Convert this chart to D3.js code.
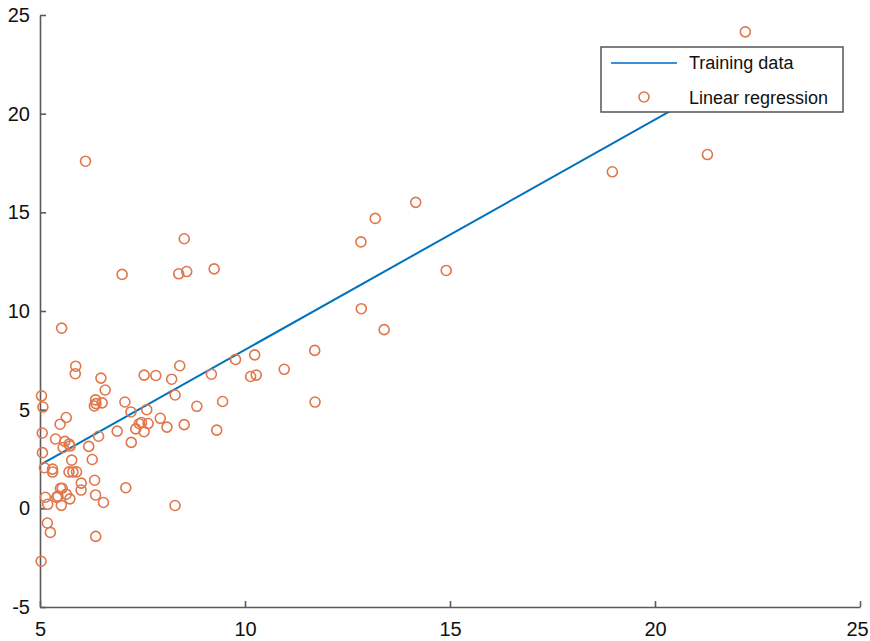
<!DOCTYPE html>
<html><head><meta charset="utf-8">
<script src="https://cdn.jsdelivr.net/npm/d3@7"></script>
<style>body{margin:0;background:#fff}svg{display:block}text{font-family:"Liberation Sans",Arial,sans-serif}</style>
</head><body><svg id="c" width="870" height="641"></svg>
<script>
const population = [6.1101,5.5277,8.5186,7.0032,5.8598,8.3829,7.4764,8.5781,6.4862,5.0546,5.7107,14.164,5.734,8.4084,5.6407,5.3794,6.3654,5.1301,6.4296,7.0708,6.1891,20.27,5.4901,6.3261,5.5649,18.945,12.828,10.957,13.176,22.203,5.2524,6.5894,9.2482,5.8918,8.2111,7.9334,8.0959,5.6063,12.836,6.3534,5.4069,6.8825,11.708,5.7737,7.8247,7.0931,5.0702,5.8014,11.7,5.5416,7.5402,5.3077,7.4239,7.6031,6.3328,6.3589,6.2742,5.6397,9.3102,9.4536,8.8254,5.1793,21.279,14.908,18.959,7.2182,8.2951,10.236,5.4994,20.341,10.136,7.3345,6.0062,7.2259,5.0269,6.5479,7.5386,5.0365,10.274,5.1077,5.7292,5.1884,6.3557,9.7687,6.5159,8.5172,9.1802,6.002,5.5204,5.0594,5.7077,7.6366,5.8707,5.3054,8.2934,13.394,5.4369];
const profit = [17.592,9.1302,13.662,11.854,6.8233,11.886,4.3483,12,6.5987,3.8166,3.2522,15.505,3.1551,7.2258,0.71618,3.5129,5.3048,0.56077,3.6518,5.3893,3.1386,21.767,4.263,5.1875,3.0825,22.638,13.501,7.0467,14.692,24.147,-1.22,5.9966,12.134,1.8495,6.5426,4.5623,4.1164,3.3928,10.117,5.4974,0.55657,3.9115,5.3854,2.4406,6.7318,1.0463,5.1337,1.844,8.0043,1.0179,6.7504,1.8396,4.2885,4.9981,1.4233,-1.4211,2.4756,4.6042,3.9624,5.4141,5.1694,-0.74279,17.929,12.054,17.054,4.8852,5.7442,7.7754,1.0173,20.992,6.6799,4.0259,1.2784,3.3411,-2.6807,0.29678,3.8845,5.7014,6.7526,2.0576,0.47953,0.20421,0.67861,7.5435,5.3436,4.2415,6.7981,0.92695,0.152,2.8214,1.8451,4.2959,7.2029,1.9869,0.14454,9.0551,0.61705];
const theta = [-3.6303, 1.1664];
const xTicks = [5,10,15,20,25];
const yTicks = [-5,0,5,10,15,20,25];
const legendLabels = ["Training data","Linear regression"];

const svg = d3.select("#c");
const x = d3.scaleLinear().domain([5,25]).range([40,860]);
const y = d3.scaleLinear().domain([-5,25]).range([607,15]);
const axisColor = "#5a5a5a";
const fmt = d => String(d);

// axes
const gx = svg.append("g").attr("transform",`translate(0,${y(-5)})`)
  .call(d3.axisBottom(x).tickValues(xTicks).tickFormat(fmt).tickSizeInner(-6).tickSizeOuter(0).tickPadding(15));
const gy = svg.append("g").attr("transform",`translate(${x(5)},0)`)
  .call(d3.axisLeft(y).tickValues(yTicks).tickFormat(fmt).tickSizeInner(-6).tickSizeOuter(0).tickPadding(10));
[gx,gy].forEach(g=>{
  g.select(".domain").attr("stroke",axisColor).attr("stroke-width",1.6);
  g.selectAll(".tick line").attr("stroke",axisColor).attr("stroke-width",1.6);
  g.selectAll(".tick text").attr("fill","#111").style("font-size","20px").style("font-family",'"Liberation Sans",Arial,sans-serif');
});
// keep the last x label inside the canvas
gx.selectAll(".tick text").filter(d=>d===25).attr("x",-3);

// regression line
const xmin = d3.min(population), xmax = d3.max(population);
const lineData = [xmin, xmax].map(v=>[v, theta[0]+theta[1]*v]);
svg.append("path").datum(lineData)
  .attr("d", d3.line().x(d=>x(d[0])).y(d=>y(d[1])))
  .attr("stroke","#0072BD").attr("stroke-width",2).attr("fill","none");

// points
svg.append("g").selectAll("circle").data(population.map((v,i)=>[v,profit[i]])).join("circle")
  .attr("cx",d=>x(d[0])).attr("cy",d=>y(d[1])).attr("r",5)
  .attr("fill","none").attr("stroke","#E0764A").attr("stroke-width",1.6);

// legend
const lg = svg.append("g");
lg.append("rect").attr("x",601).attr("y",47).attr("width",242).attr("height",65)
  .attr("fill","#fff").attr("stroke","#555").attr("stroke-width",1.5);
lg.append("line").attr("x1",611).attr("x2",677).attr("y1",63).attr("y2",63)
  .attr("stroke","#3d8fd6").attr("stroke-width",2);
lg.append("circle").attr("cx",644).attr("cy",97).attr("r",5)
  .attr("fill","none").attr("stroke","#E0764A").attr("stroke-width",1.6);
lg.selectAll("text.lbl").data(legendLabels).join("text").attr("class","lbl")
  .attr("x",689).attr("y",(d,i)=>63+i*35).attr("dy","0.35em")
  .style("font-size","18px").attr("fill","#111").text(d=>d);
</script></body></html>
